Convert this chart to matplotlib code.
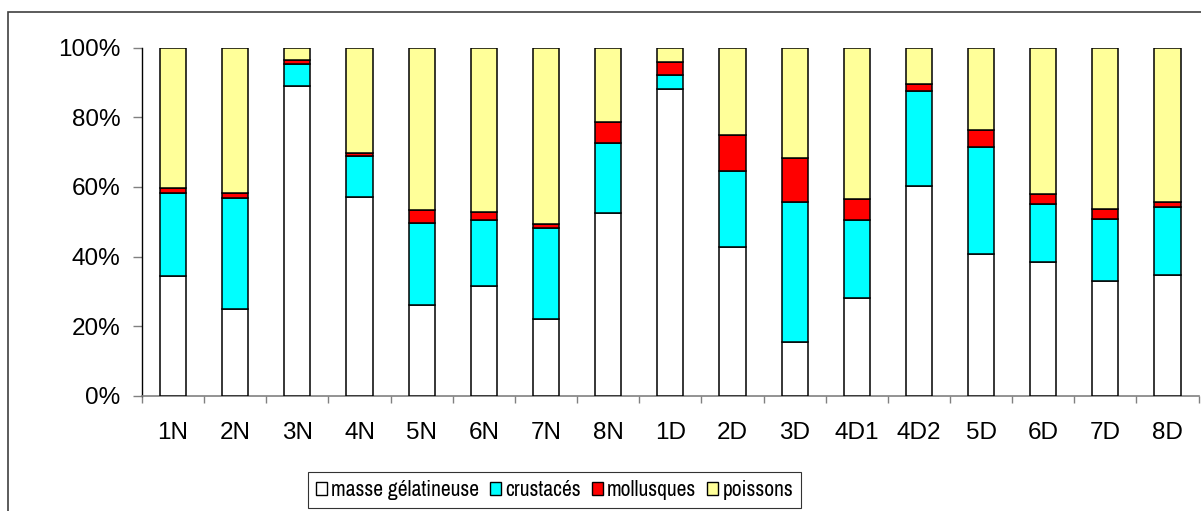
import matplotlib
matplotlib.use("Agg")
import matplotlib.pyplot as plt
from matplotlib.patches import Rectangle, Patch
import numpy as np

plt.rcParams['font.family'] = ['Liberation Sans', 'DejaVu Sans']

categories = ["1N", "2N", "3N", "4N", "5N", "6N", "7N", "8N", "1D", "2D", "3D",
              "4D1", "4D2", "5D", "6D", "7D", "8D"]
# cumulative tops (%)
gel_top = [34.4, 25.0, 89.1, 57.0, 26.2, 31.6, 22.1, 52.5, 88.1, 42.8, 15.4,
           28.1, 60.2, 40.7, 38.5, 33.0, 34.8]
crus_top = [58.2, 56.9, 95.4, 68.8, 49.7, 50.5, 48.3, 72.7, 92.1, 64.6, 55.6,
            50.6, 87.5, 71.5, 55.2, 50.9, 54.1]
moll_top = [59.7, 58.3, 96.4, 69.6, 53.4, 52.9, 49.3, 78.7, 95.9, 75.0, 68.4,
            56.5, 89.7, 76.4, 58.0, 53.6, 55.6]

masse = np.array(gel_top)
crustaces = np.array(crus_top) - np.array(gel_top)
mollusques = np.array(moll_top) - np.array(crus_top)
poissons = 100 - np.array(moll_top)

series_names = ["masse gélatineuse", "crustacés", "mollusques", "poissons"]
colors = ["#FFFFFF", "#00FFFF", "#FF0000", "#FFFF99"]

fig = plt.figure(figsize=(12.01, 5.11), dpi=100)
ax = fig.add_axes([142.0 / 1201, (511 - 395.7) / 511, (1198.6 - 142.0) / 1201, (395.7 - 47.7) / 511])

x = np.arange(len(categories))
bottom = np.zeros(len(categories))
for vals, col in zip([masse, crustaces, mollusques, poissons], colors):
    ax.bar(x, vals, bottom=bottom, width=0.42, color=col, edgecolor="black", linewidth=1.1, zorder=3)
    bottom = bottom + vals

ax.set_xlim(-0.5, len(categories) - 0.5)
ax.set_ylim(0, 100)
ax.set_yticks([0, 20, 40, 60, 80, 100])
ax.set_yticklabels(["0%", "20%", "40%", "60%", "80%", "100%"], fontsize=17.5)
ax.set_xticks(x)
ax.set_xticklabels(categories, fontsize=17.5)
ax.set_xticks(np.arange(-0.5, len(categories), 1.0), minor=True)
ax.tick_params(axis="x", which="major", length=0, pad=19)
ax.tick_params(axis="x", which="minor", length=5, width=1.0, color="#808080", direction="out")
ax.tick_params(axis="y", length=6.5, width=1.0, color="#808080", pad=9, direction="out")

for s in ["top", "right"]:
    ax.spines[s].set_visible(False)
ax.spines["bottom"].set_color("#808080")
ax.spines["bottom"].set_linewidth(1.2)
ax.spines["left"].set_color("black")
ax.spines["left"].set_linewidth(1.0)

handles = [Patch(facecolor=c, edgecolor="black", linewidth=1.0) for c in colors]
leg = fig.legend(handles, series_names, loc="center", bbox_to_anchor=(554.5 / 1201, 21 / 511),
                 ncol=4, frameon=True, fancybox=False, handlelength=0.52,
                 handleheight=0.52, handletextpad=0.2, columnspacing=0.5, borderpad=0.35,
                 borderaxespad=0,
                 prop={'family': ['Archivo Narrow', 'Roboto Condensed', 'Liberation Sans'], 'size': 15.5})
leg.get_frame().set_edgecolor("black")
leg.get_frame().set_linewidth(0.8)

# outer chart-area border
fig.patches.append(Rectangle((8 / 1201, -0.1), 1.2, (511 - 12) / 511 + 0.1, transform=fig.transFigure,
                             fill=False, edgecolor="#404040", linewidth=1.2))

fig.savefig("out.png", dpi=100)
